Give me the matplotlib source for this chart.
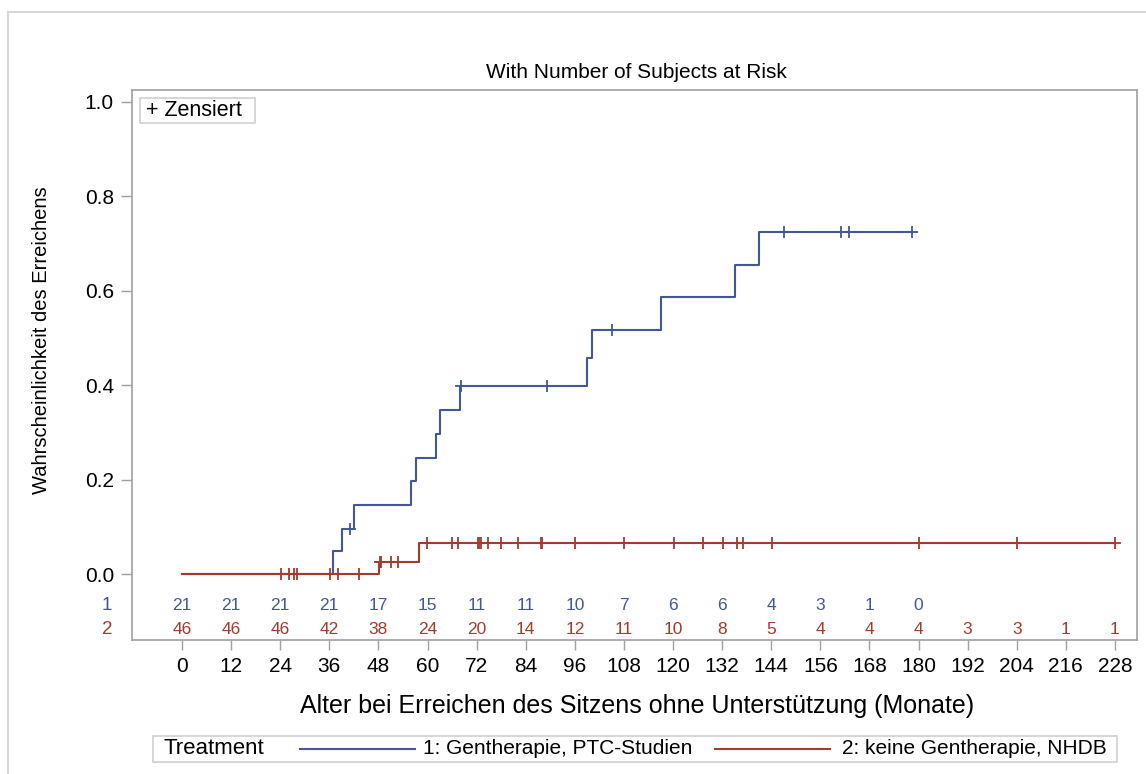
import numpy as np
import matplotlib
matplotlib.use("Agg")
import matplotlib.pyplot as plt
from matplotlib.lines import Line2D
from matplotlib.patches import Rectangle

plt.rcParams['font.family'] = ['Liberation Sans', 'DejaVu Sans']

W, H = 1146, 774

# Group 1: gene therapy (PTC studies) - cumulative probability steps
g1_step_months = [0, 36.8, 39.2, 42.0, 56.0, 57.1, 62.1, 63.0, 68.0,
                  99.0, 100.1, 117.1, 135.1, 141.1]
g1_step_prob = [0.0, 0.048, 0.095, 0.146, 0.196, 0.246, 0.296, 0.347, 0.397,
                0.457, 0.517, 0.586, 0.655, 0.724]
g1_censored = [41.1, 68.2, 89.1, 105.1, 147.0, 161.1, 163.0, 178.5]

# Group 2: no gene therapy (NHDB)
g2_step_months = [0, 48.2, 58.0]
g2_step_prob = [0.0, 0.026, 0.066]
g2_censored = [24.1, 26.1, 27.3, 28.1, 36.1, 38.1, 43.2, 48.4, 48.6, 51.1,
               52.8, 59.9, 66.1, 67.5, 72.3, 72.7, 73.1, 74.8, 78.0, 82.1,
               87.8, 88.0, 96.0, 107.9, 120.2, 127.4, 132.1, 135.7, 137.0,
               144.1, 180.0, 204.1, 228.1]

# Number at risk table
risk_months_1 = [0, 12, 24, 36, 48, 60, 72, 84, 96, 108, 120, 132, 144, 156, 168, 180]
risk_counts_1 = [21, 21, 21, 21, 17, 15, 11, 11, 10, 7, 6, 6, 4, 3, 1, 0]
risk_months_2 = [0, 12, 24, 36, 48, 60, 72, 84, 96, 108, 120, 132, 144, 156,
                 168, 180, 192, 204, 216, 228]
risk_counts_2 = [46, 46, 46, 42, 38, 24, 20, 14, 12, 11, 10, 8, 5, 4, 4, 4, 3, 3, 1, 1]

x_ticks = [0, 12, 24, 36, 48, 60, 72, 84, 96, 108, 120, 132, 144, 156, 168,
           180, 192, 204, 216, 228]
y_ticks = [0.0, 0.2, 0.4, 0.6, 0.8, 1.0]

BLUE = '#445694'
RED = '#A23A2E'
FRAME = '#a0a0a0'


def fx(px):
    return px / W


def fy(py):
    return 1 - py / H


fig = plt.figure(figsize=(W / 100, H / 100), dpi=100)

# outer border
fig.add_artist(Rectangle((fx(8), fy(1000)), fx(1200), fy(12) - fy(1000),
                         transform=fig.transFigure, fill=False,
                         edgecolor='#d6d6d6', lw=1.5))

ax = fig.add_axes([fx(132), fy(640), fx(1137) - fx(132), fy(90) - fy(640)])
x0_px, x_scale = 182.0, 4.092
y0_px, y_scale = 574.0, 472.3
ax.set_xlim((132 - x0_px) / x_scale, (1137 - x0_px) / x_scale)
ax.set_ylim(-(640 - y0_px) / y_scale, 1 + (101.7 - 90) / y_scale)


def draw_group(times, probs, censored, color, z):
    censored = np.asarray(censored)
    end = censored.max()
    t = list(times) + [end]
    p = list(probs) + [probs[-1]]
    ax.step(t, p, where='post', color=color, lw=1.5, zorder=z)
    idx = np.searchsorted(times, censored, side='right') - 1
    cy = np.asarray(probs)[idx]
    ax.plot(censored, cy, linestyle='none', marker='+', markersize=9,
            markeredgewidth=1.3, color=color, zorder=z)


draw_group(g1_step_months, g1_step_prob, g1_censored, BLUE, 3)
draw_group(g2_step_months, g2_step_prob, g2_censored, RED, 4)

# at-risk rows inside the frame
row1_y = -(606 - y0_px) / y_scale
row2_y = -(629 - y0_px) / y_scale
for m, c in zip(risk_months_1, risk_counts_1):
    ax.text(m, row1_y, str(c), ha='center', va='center', fontsize=12.5, color=BLUE)
for m, c in zip(risk_months_2, risk_counts_2):
    ax.text(m, row2_y, str(c), ha='center', va='center', fontsize=12.5, color=RED)
fig.text(fx(107), fy(606), '1', ha='center', va='center', fontsize=13.5, color=BLUE)
fig.text(fx(107), fy(629), '2', ha='center', va='center', fontsize=13.5, color=RED)

for s in ax.spines.values():
    s.set_color(FRAME)
    s.set_linewidth(1.2)

ax.set_xticks(x_ticks)
ax.set_xticklabels([str(v) for v in x_ticks])
ax.set_yticks(y_ticks)
ax.set_yticklabels([f'{v:.1f}' for v in y_ticks])
ax.tick_params(axis='x', direction='out', length=7, width=1, color=FRAME,
               labelsize=15, pad=5, top=False)
ax.tick_params(axis='y', direction='out', length=8, width=1, color=FRAME,
               labelsize=15, pad=5, right=False)

# censor legend inside the plot
fig.add_artist(Rectangle((fx(140), fy(123)), fx(255) - fx(140), fy(98) - fy(123),
                         transform=fig.transFigure, facecolor='white',
                         edgecolor='#d0d0d0', lw=1.2, zorder=5))
fig.text(fx(146), fy(111), '+ Zensiert', ha='left', va='center', fontsize=15.5,
         zorder=6)

fig.text(fx(636), fy(72), 'With Number of Subjects at Risk', ha='center',
         va='center', fontsize=15)
fig.text(fx(637), fy(706), 'Alter bei Erreichen des Sitzens ohne Unterstützung (Monate)',
         ha='center', va='center', fontsize=18)
fig.text(fx(42), fy(340), 'Wahrscheinlichkeit des Erreichens', ha='center',
         va='center', rotation=90, fontsize=14.5)

# treatment legend
fig.add_artist(Rectangle((fx(153), fy(762)), fx(1117) - fx(153), fy(736) - fy(762),
                         transform=fig.transFigure, fill=False,
                         edgecolor='#d0d0d0', lw=1.2))
ly = fy(749)
fig.text(fx(163), ly, 'Treatment', ha='left', va='center', fontsize=16)
fig.add_artist(Line2D([fx(300), fx(415)], [ly, ly], color=BLUE, lw=1.5,
                      transform=fig.transFigure))
fig.text(fx(423), ly, '1: Gentherapie, PTC-Studien', ha='left', va='center',
         fontsize=15)
fig.add_artist(Line2D([fx(715), fx(830)], [ly, ly], color=RED, lw=1.5,
                      transform=fig.transFigure))
fig.text(fx(1107), ly, '2: keine Gentherapie, NHDB', ha='right', va='center',
         fontsize=15)

fig.savefig('out.png', dpi=100)
